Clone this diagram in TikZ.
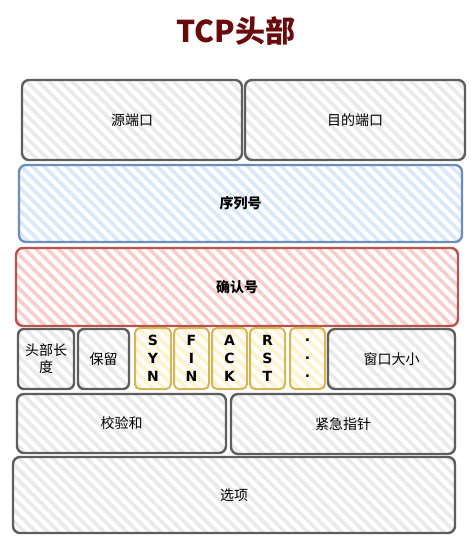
\documentclass[tikz,border=0pt]{standalone}
\usepackage{fontspec}
\setmainfont{Noto Sans CJK SC}
\newfontfamily\flagfont{DejaVu Sans}
\usetikzlibrary{patterns.meta}
\definecolor{gstroke}{HTML}{5E5E5E}
\definecolor{gfill}{HTML}{EAEAEA}
\definecolor{bstroke}{HTML}{6C8EBF}
\definecolor{bfill}{HTML}{DAE8FC}
\definecolor{rstroke}{HTML}{B85450}
\definecolor{rfill}{HTML}{F8CECC}
\definecolor{ystroke}{HTML}{D6B656}
\definecolor{yfill}{HTML}{FFF2CC}
\definecolor{titlered}{HTML}{6A0A0A}
\tikzset{
  field/.style={draw=gstroke, line width=2.4pt, rounded corners=7pt,
    pattern={Lines[angle=-45,distance=8pt,line width=3.6pt]}, pattern color=gfill,
    inner sep=0pt, font=\fontsize{14}{17}\selectfont, align=center},
  bluefield/.style={field, draw=bstroke, pattern color=bfill, font=\fontsize{14}{17}\selectfont\bfseries},
  redfield/.style={field, draw=rstroke, pattern color=rfill, font=\fontsize{14}{17}\selectfont\bfseries},
  flagfield/.style={field, draw=ystroke, line width=2pt, rounded corners=5pt, pattern color=yfill,
    font=\flagfont\bfseries\fontsize{14}{18}\selectfont},
  titlestyle/.style={text=titlered, font=\fontsize{30}{34}\selectfont\bfseries, inner sep=0pt}
}
\begin{document}
\begin{tikzpicture}[x=1pt,y=-1pt]
\useasboundingbox[fill=white] (0,0) rectangle (472,541);
\node[titlestyle] (title) at (236,31) {TCP头部};
\node[field, minimum width=220pt, minimum height=80pt] (src) at (132,120) {源端口};
\node[field, minimum width=220pt, minimum height=80pt] (dst) at (355,120) {目的端口};
\node[bluefield, minimum width=443pt, minimum height=77pt] (seq) at (240.5,203.5) {序列号};
\node[redfield, minimum width=442pt, minimum height=78pt] (ack) at (237,287) {确认号};
\node[field, minimum width=56pt, minimum height=60pt, rounded corners=6pt] (hlen) at (46,359) {头部长\\度};
\node[field, minimum width=51pt, minimum height=60pt, rounded corners=6pt] (rsv) at (103.5,359) {保留};
\node[flagfield, minimum width=36pt, minimum height=61pt] (syn) at (153,358.5) {S\\Y\\N};
\node[flagfield, minimum width=35pt, minimum height=61pt] (fin) at (191.5,358.5) {F\\I\\N};
\node[flagfield, minimum width=35pt, minimum height=61pt] (ackf) at (229.5,358.5) {A\\C\\K};
\node[flagfield, minimum width=35pt, minimum height=61pt] (rst) at (267.5,358.5) {R\\S\\T};
\node[flagfield, minimum width=35pt, minimum height=61pt] (dots) at (307.5,358.5) {.\\.\\.};
\node[field, minimum width=127pt, minimum height=60pt] (win) at (391.5,359) {窗口大小};
\node[field, minimum width=209pt, minimum height=59pt] (chk) at (121.5,423.5) {校验和};
\node[field, minimum width=224pt, minimum height=60pt] (urg) at (343,424) {紧急指针};
\node[field, minimum width=442pt, minimum height=76pt] (opt) at (234,495) {选项};
\end{tikzpicture}
\end{document}
